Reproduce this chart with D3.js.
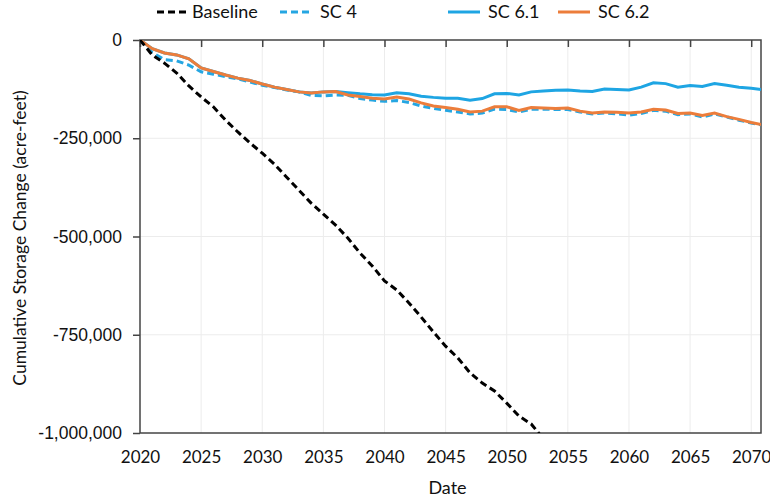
<!DOCTYPE html>
<html>
<head>
<meta charset="utf-8">
<script src="https://cdn.jsdelivr.net/npm/d3@7"></script>
<style>
  body { margin: 0; background: #fff; }
  svg { display: block; }
  .lbl { font-family: Lato, "Liberation Sans", sans-serif; fill: #111; }
  .ylbl { font-family: "Liberation Sans", Arial, sans-serif; fill: #111; }
</style>
</head>
<body>
<svg id="chart" width="770" height="501"></svg>
<script>
// annual values, thousands of acre-feet
var years = d3.range(2020, 2072);
var baselineYears = d3.range(2020, 2054);
var baseline = [0, -38, -59, -84, -117, -145, -170, -204, -234, -262, -288, -316, -349, -382, -415, -443, -471,
  -504, -542, -575, -613, -636, -669, -705, -743, -779, -809, -847, -873, -893, -924, -957, -977, -1015];
var sc4 = [0, -32, -50, -53, -64, -81, -87, -93, -99, -107, -115, -121, -127, -132, -141, -142, -140,
  -141, -149, -153, -156, -154, -159, -168, -174, -179, -183, -188, -186, -176, -177, -183, -176, -176, -177,
  -177, -183, -188, -186, -188, -191, -187, -179, -181, -190, -188, -196, -188, -196, -204, -211, -217];
var sc61 = [0, -22, -33, -38, -48, -71, -80, -89, -97, -103, -112, -120, -126, -132, -135, -132, -131,
  -134, -137, -139, -140, -134, -137, -143, -146, -148, -148, -153, -149, -137, -136, -140, -132, -130, -128,
  -127, -130, -131, -125, -126, -127, -120, -109, -111, -120, -116, -118, -111, -115, -120, -123, -127];
var sc62 = [0, -22, -33, -38, -48, -71, -80, -89, -97, -103, -112, -120, -126, -132, -135, -132, -131,
  -140, -144, -148, -150, -145, -150, -160, -168, -172, -176, -183, -181, -170, -170, -179, -172, -173, -174,
  -173, -181, -186, -183, -184, -186, -183, -176, -178, -187, -186, -192, -186, -195, -202, -210, -216];
var xTicks = d3.range(2020, 2071, 5);
var yTicks = [0, -250, -500, -750, -1000];

var Chart = {
  init(){
    var svg = d3.select("#chart");
    var m = {left: 140, top: 40, right: 9, bottom: 68};
    var w = 770 - m.left - m.right, h = 501 - m.top - m.bottom;

    var x = d3.scaleLinear().domain([2020, 2070.8]).range([0, w]);
    var y = d3.scaleLinear().domain([-1000, 0]).range([h, 0]);
    var fmt = d3.formatLocale({decimal: ".", thousands: ",", grouping: [3], currency: ["", ""], minus: "-"}).format(",");

    var g = svg.append("g").attr("transform", "translate(" + m.left + "," + m.top + ")");

    svg.append("defs").append("clipPath").attr("id", "clip")
      .append("rect").attr("width", w).attr("height", h);

    // grid
    g.append("g").selectAll("line").data(xTicks.slice(1)).enter().append("line")
      .attr("x1", d => x(d)).attr("x2", d => x(d)).attr("y1", 0).attr("y2", h)
      .attr("stroke", "#ececec").attr("stroke-width", 1);
    g.append("g").selectAll("line").data(yTicks.slice(1, -1)).enter().append("line")
      .attr("x1", 0).attr("x2", w).attr("y1", d => y(d)).attr("y2", d => y(d))
      .attr("stroke", "#ececec").attr("stroke-width", 1);

    // box + axes
    var yAxis = g.append("g")
      .call(d3.axisLeft(y).tickValues(yTicks).tickSize(7).tickFormat(d => fmt(d * 1000)));
    yAxis.select(".domain").remove();
    yAxis.selectAll("line").attr("stroke", "#444").attr("stroke-width", 1.5);
    yAxis.selectAll("text").attr("class", "ylbl").attr("font-size", 17.5).attr("x", -18);

    var topAxis = g.append("g")
      .call(d3.axisBottom(x).tickValues(xTicks).tickSize(7).tickFormat(""));
    topAxis.select(".domain").remove();
    topAxis.selectAll("line").attr("stroke", "#444").attr("stroke-width", 1.5);

    var xAxis = g.append("g").attr("transform", "translate(0," + h + ")")
      .call(d3.axisBottom(x).tickValues(xTicks).tickSize(0).tickFormat(d3.format("d")));
    xAxis.select(".domain").remove();
    xAxis.selectAll("text").attr("class", "lbl").attr("font-size", 17).attr("dy", "1.6em");

    g.append("rect").attr("width", w).attr("height", h)
      .attr("fill", "none").attr("stroke", "#444").attr("stroke-width", 1.5);

    // lines
    var line = d3.line().x(d => x(d[0])).y(d => y(d[1]));
    var series = [
      {name: "SC 4", yrs: years, vals: sc4, color: "#25a6e2", dash: "7,4"},
      {name: "SC 6.1", yrs: years, vals: sc61, color: "#1ea5e3", dash: null},
      {name: "SC 6.2", yrs: years, vals: sc62, color: "#ec7d3b", dash: null},
      {name: "Baseline", yrs: baselineYears, vals: baseline, color: "#000", dash: "7,4"}
    ];
    var plot = g.append("g").attr("clip-path", "url(#clip)");
    series.forEach(function(s){
      plot.append("path")
        .datum(d3.zip(s.yrs, s.vals))
        .attr("d", line)
        .attr("fill", "none")
        .attr("stroke", s.color)
        .attr("stroke-width", 3)
        .attr("stroke-dasharray", s.dash);
    });

    // legend
    var legend = [
      {name: "Baseline", x: 157, color: "#000", dash: "7,4"},
      {name: "SC 4", x: 280, color: "#25a6e2", dash: "7,4"},
      {name: "SC 6.1", x: 448, color: "#1ea5e3", dash: null},
      {name: "SC 6.2", x: 558, color: "#ec7d3b", dash: null}
    ];
    var lg = svg.append("g").selectAll("g").data(legend).enter().append("g")
      .attr("transform", d => "translate(" + d.x + ",12)");
    lg.append("line").attr("x1", 0).attr("x2", 32).attr("y1", 0).attr("y2", 0)
      .attr("stroke", d => d.color).attr("stroke-width", 3).attr("stroke-dasharray", d => d.dash);
    lg.append("text").attr("class", "lbl").attr("x", d => d.name == "Baseline" ? 35 : 40)
      .attr("y", 0).attr("dy", "0.35em").attr("font-size", 18).text(d => d.name);

    // titles
    svg.append("text").attr("class", "lbl").attr("x", m.left + w / 2 - 3).attr("y", 494)
      .attr("text-anchor", "middle").attr("font-size", 18).text("Date");
    svg.append("text").attr("class", "lbl")
      .attr("transform", "translate(26,238) rotate(-90)")
      .attr("text-anchor", "middle").attr("font-size", 17.5)
      .text("Cumulative Storage Change (acre-feet)");
  }
};
Chart.init();
</script>
</body>
</html>
